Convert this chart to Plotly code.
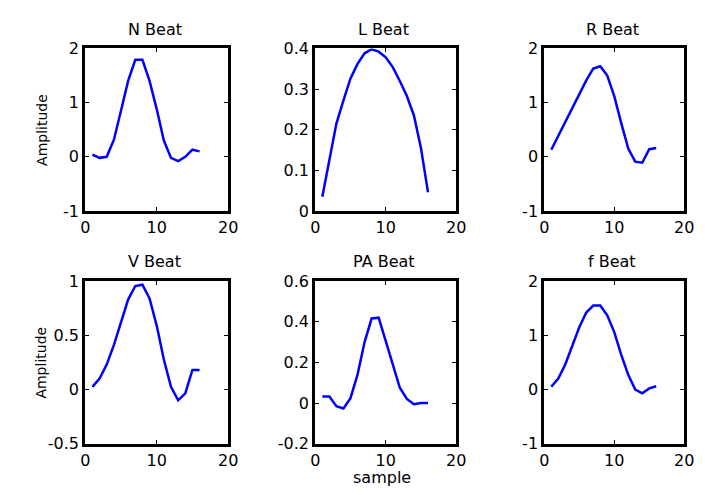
import plotly.graph_objects as go

samples = list(range(1, 17))

titles = ["N Beat", "L Beat", "R Beat", "V Beat", "PA Beat", "f Beat"]

n_beat = [0.04, -0.02, 0.0, 0.31, 0.85, 1.40, 1.79, 1.79, 1.40, 0.88, 0.30, -0.02, -0.08, 0.0, 0.13, 0.10]
l_beat = [0.035, 0.124, 0.215, 0.272, 0.326, 0.362, 0.388, 0.398, 0.392, 0.378, 0.354, 0.320, 0.283, 0.235, 0.155, 0.046]
r_beat = [0.13, 0.39, 0.66, 0.90, 1.15, 1.41, 1.63, 1.67, 1.50, 1.12, 0.62, 0.15, -0.09, -0.11, 0.14, 0.16]
v_beat = [0.024, 0.10, 0.23, 0.41, 0.62, 0.83, 0.955, 0.967, 0.84, 0.59, 0.277, 0.024, -0.10, -0.036, 0.18, 0.18]
pa_beat = [0.032, 0.032, -0.016, -0.027, 0.024, 0.14, 0.30, 0.416, 0.42, 0.31, 0.19, 0.075, 0.02, -0.006, 0.0, 0.0]
f_beat = [0.05, 0.20, 0.46, 0.79, 1.15, 1.42, 1.55, 1.55, 1.37, 1.06, 0.64, 0.27, 0.0, -0.07, 0.02, 0.06]

series = [n_beat, l_beat, r_beat, v_beat, pa_beat, f_beat]

x_ticks = [0, 10, 20]
x_ticktext = ["0", "10", "20"]

y_ranges = [[-1, 2], [0, 0.4], [-1, 2], [-0.5, 1], [-0.2, 0.6], [-1, 2]]
y_ticks = [
    [-1, 0, 1, 2],
    [0, 0.1, 0.2, 0.3, 0.4],
    [-1, 0, 1, 2],
    [-0.5, 0, 0.5, 1],
    [-0.2, 0, 0.2, 0.4, 0.6],
    [-1, 0, 1, 2],
]
y_ticktext = [
    ["-1", "0", "1", "2"],
    ["0", "0.1", "0.2", "0.3", "0.4"],
    ["-1", "0", "1", "2"],
    ["-0.5", "0", "0.5", "1"],
    ["-0.2", "0", "0.2", "0.4", "0.6"],
    ["-1", "0", "1", "2"],
]

y_label = "Amplitude"
x_label = "sample"

W, H = 705, 495
col_px = [(82, 228), (317, 461), (551, 694)]
row_px = [(41, 210), (283, 452)]

FONT = "DejaVu Sans, Liberation Sans, Arial, sans-serif"

fig = go.Figure()
layout = dict(
    width=W, height=H,
    margin=dict(l=0, r=0, t=0, b=0),
    paper_bgcolor="white", plot_bgcolor="white",
    showlegend=False,
    font=dict(family=FONT, size=15, color="black"),
)
annotations = []

for i, (title, vals) in enumerate(zip(titles, series)):
    k = i + 1
    r, c = divmod(i, 3)
    x0, x1 = col_px[c]
    y0, y1 = row_px[r]
    xd = [x0 / W, x1 / W]
    yd = [1 - y1 / H, 1 - y0 / H]
    xa = "x" if k == 1 else f"x{k}"
    ya = "y" if k == 1 else f"y{k}"
    fig.add_trace(go.Scatter(x=samples, y=vals, xaxis=xa, yaxis=ya, mode="lines",
                             line=dict(color="#0000FF", width=2.5), hoverinfo="skip"))
    common = dict(showline=True, linecolor="black", linewidth=3, mirror="ticks",
                  ticks="inside", ticklen=4, tickwidth=1, tickcolor="black",
                  showgrid=False, zeroline=False,
                  tickfont=dict(family=FONT, size=16, color="black"))
    layout["xaxis" if k == 1 else f"xaxis{k}"] = dict(
        domain=xd, range=[0, 20], tickvals=x_ticks, ticktext=x_ticktext,
        anchor=ya, **common)
    layout["yaxis" if k == 1 else f"yaxis{k}"] = dict(
        domain=yd, range=y_ranges[i], tickvals=y_ticks[i], ticktext=y_ticktext[i],
        anchor=xa, **common)
    annotations.append(dict(text=title, x=((x0 + x1) / 2 - 2) / W, y=1 - (y0 - 20) / H,
                            xref="paper", yref="paper", xanchor="center", yanchor="middle",
                            showarrow=False, font=dict(family=FONT, size=16, color="black")))
    if c == 0:
        annotations.append(dict(text=y_label, x=37 / W, y=1 - (y0 + y1) / 2 / H,
                                xref="paper", yref="paper", xanchor="center", yanchor="middle",
                                textangle=-90, showarrow=False,
                                font=dict(family=FONT, size=14, color="black")))

annotations.append(dict(text=x_label, x=385 / W, y=1 - 487 / H, xref="paper", yref="paper",
                        xanchor="center", yanchor="middle", showarrow=False,
                        font=dict(family=FONT, size=16, color="black")))

layout["annotations"] = annotations
fig.update_layout(**layout)
fig.write_html("out.html", config={"displayModeBar": False},
               post_script="document.body.style.margin='0';document.body.style.overflow='hidden';")
